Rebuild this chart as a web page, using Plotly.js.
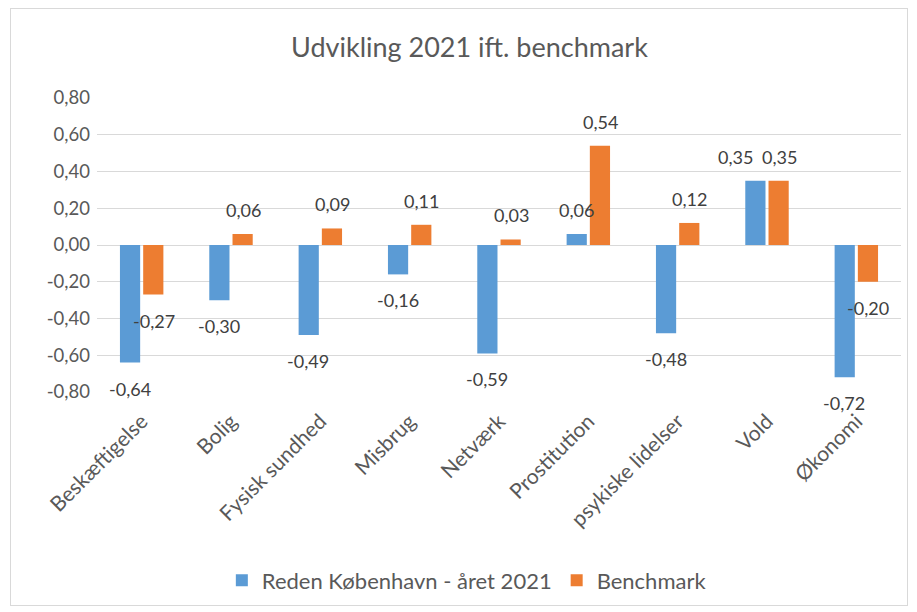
<!DOCTYPE html>
<html>
<head>
<meta charset="utf-8">
<script src="https://cdn.plot.ly/plotly-3.0.1.min.js"></script>
<style>
  body { margin: 0; background: #fff; }
  #plot { width: 917px; height: 612px; }
  #frame { position: absolute; left: 10px; top: 8px; width: 896px; height: 596px;
           border: 1px solid #d9d9d9; pointer-events: none; }
</style>
</head>
<body>
<div id="plot"></div>
<div id="frame"></div>
<script>
// Categories and values
let categories = ["Beskæftigelse", "Bolig", "Fysisk sundhed", "Misbrug", "Netværk",
                  "Prostitution", "psykiske lidelser", "Vold", "Økonomi"];
let reden2021 = [-0.64, -0.30, -0.49, -0.16, -0.59, 0.06, -0.48, 0.35, -0.72];
let benchmark = [-0.27, 0.06, 0.09, 0.11, 0.03, 0.54, 0.12, 0.35, -0.20];

let yTickVals = [-0.8, -0.6, -0.4, -0.2, 0, 0.2, 0.4, 0.6, 0.8];
let yTickText = ["-0,80", "-0,60", "-0,40", "-0,20", "0,00", "0,20", "0,40", "0,60", "0,80"];

// danish number format for the data labels
function fmt(v) {
    return v.toFixed(2).replace(".", ",");
}

let fontFam = "Lato, 'Open Sans', sans-serif";

// Trace1 for Reden København
let trace1 = {
    x: categories,
    y: reden2021,
    name: "Reden København - året 2021",
    marker: {color: "#5B9BD5"},
    type: "bar"
};

// Trace2 for benchmark
let trace2 = {
    x: categories,
    y: benchmark,
    name: "Benchmark",
    marker: {color: "#ED7D31"},
    type: "bar"
};

let data = [trace1, trace2];

// data labels (excel style, a bit away from the bar end)
let annotations = [];
function addLabels(values, other, shiftX) {
    for (let i = 0; i < values.length; i++) {
        let v = values[i];
        let dx = shiftX;
        // excel pushes the left label aside when two labels at the same height collide
        if (v >= 0 && other[i] >= 0 && Math.abs(v - other[i]) < 0.05 && shiftX < 0) {
            dx = shiftX - 20;
        }
        annotations.push({
            x: categories[i],
            y: v,
            text: fmt(v),
            showarrow: false,
            xshift: dx,
            yshift: v >= 0 ? 24 : -26,
            font: {family: fontFam, size: 18, color: "#404040"}
        });
    }
}
addLabels(reden2021, benchmark, -12);
addLabels(benchmark, reden2021, 12);

let layout = {
    width: 917,
    height: 612,
    font: {family: fontFam, color: "#595959"},
    title: {
        text: "Udvikling 2021 ift. benchmark",
        font: {size: 27, color: "#595959"},
        x: 0.512,
        xanchor: "center",
        y: 0.923,
        yanchor: "middle"
    },
    margin: {l: 97, r: 16, t: 98, b: 219},
    barmode: "group",
    bargap: 0.48,
    bargroupgap: 0.13,
    showlegend: true,
    legend: {
        orientation: "h",
        x: 0.46,
        xanchor: "center",
        y: -0.635,
        yanchor: "middle",
        font: {size: 22, color: "#595959"},
        traceorder: "normal",
        itemwidth: 30
    },
    annotations: annotations,
    xaxis: {
        tickangle: -45,
        tickfont: {size: 21, color: "#595959"},
        showgrid: false,
        showline: false,
        ticks: "",
        ticklabelstandoff: 12
    },
    yaxis: {
        range: [-0.8, 0.8],
        tickvals: yTickVals,
        ticktext: yTickText,
        tickfont: {size: 18.5, color: "#595959"},
        gridcolor: "#d9d9d9",
        gridwidth: 1,
        zeroline: false,
        showline: false,
        ticks: "",
        ticklabelstandoff: 6
    },
    plot_bgcolor: "#fff",
    paper_bgcolor: "#fff"
};

Plotly.newPlot("plot", data, layout, {displayModeBar: false});
</script>
</body>
</html>
